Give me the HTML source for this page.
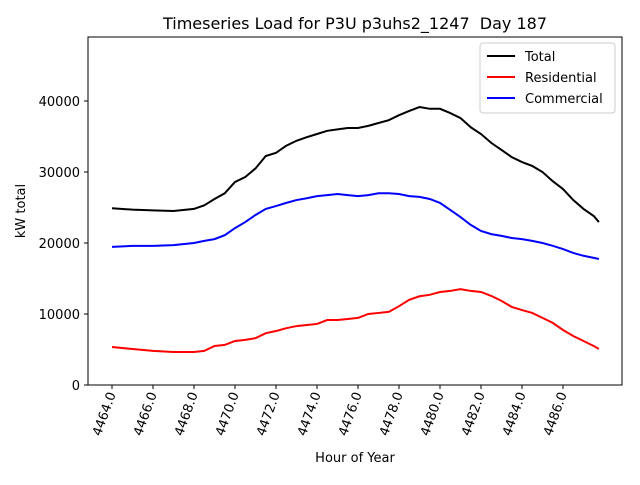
<!DOCTYPE html>
<html><head><meta charset="utf-8"><style>
body{margin:0;background:#fff;font-family:"Liberation Sans","DejaVu Sans",sans-serif}
svg text{font-family:"DejaVu Sans","Liberation Sans",sans-serif}
</style></head><body>
<svg id="c" width="640" height="480" viewBox="0 0 640 480">
<rect width="640" height="480" fill="#fff"/>
<text x="355" y="29" font-size="16" text-anchor="middle">Timeseries Load for P3U p3uhs2_1247&#160; Day 187</text>
<text x="355" y="462" font-size="13" text-anchor="middle">Hour of Year</text>
<text x="25" y="211" font-size="13" text-anchor="middle" transform="rotate(-90 25 211)">kW total</text>
<g id="plot"></g>
<rect x="88" y="37" width="534" height="348" fill="none" stroke="#000" stroke-width="1"/>
<g>
<rect x="480" y="43" width="135" height="70" fill="#fff" stroke="#ccc" rx="3"/>
<g><line x1="487" y1="56" x2="515" y2="56" stroke="#000" stroke-width="2"/><text x="525" y="61" font-size="13">Total</text></g>
<g><line x1="487" y1="77" x2="515" y2="77" stroke="red" stroke-width="2"/><text x="525" y="82" font-size="13">Residential</text></g>
<g><line x1="487" y1="98" x2="515" y2="98" stroke="blue" stroke-width="2"/><text x="525" y="103" font-size="13">Commercial</text></g>
</g>
</svg>
<script>
const hours=[4464,4465,4466,4467,4468,4468.5,4469,4469.5,4470,4470.5,4471,4471.5,4472,4472.5,4473,4473.5,4474,4474.5,4475,4475.5,4476,4476.5,4477,4477.5,4478,4478.5,4479,4479.5,4480,4480.5,4481,4481.5,4482,4482.5,4483,4483.5,4484,4484.5,4485,4485.5,4486,4486.5,4487,4487.5,4487.75];
const total=[24900,24700,24600,24500,24800,25300,26200,27000,28600,29300,30500,32250,32700,33700,34400,34900,35350,35800,36000,36200,36200,36500,36900,37300,38000,38600,39150,38900,38900,38300,37600,36300,35350,34100,33100,32100,31400,30850,30000,28700,27600,26050,24800,23800,22950];
const residential=[5350,5070,4800,4650,4650,4800,5500,5650,6200,6350,6600,7300,7600,8000,8300,8450,8600,9150,9150,9300,9450,10000,10150,10300,11100,12000,12500,12700,13100,13250,13500,13250,13100,12550,11850,11000,10550,10150,9450,8750,7750,6900,6200,5500,5070];
const commercial=[19450,19600,19600,19700,20000,20300,20550,21100,22100,22950,23950,24800,25200,25650,26050,26300,26600,26750,26900,26750,26600,26750,27000,27000,26900,26600,26500,26200,25650,24650,23650,22550,21700,21250,21000,20700,20550,20300,20000,19600,19150,18600,18200,17900,17750];
const xTicks=[4464,4466,4468,4470,4472,4474,4476,4478,4480,4482,4484,4486];
const yTicks=[0,10000,20000,30000,40000];
const X=h=>112+(h-4464)*20.5;
const Y=v=>385-v*0.0071;
const NS="http://www.w3.org/2000/svg";
const g=document.getElementById('plot');
function mk(t,a){const e=document.createElementNS(NS,t);for(const k in a)e.setAttribute(k,a[k]);g.appendChild(e);return e;}
xTicks.forEach(t=>{
 const l=mk('line',{x1:X(t),x2:X(t),y1:385,y2:389,stroke:'#000'});
 
 
 const tx=mk('text',{x:X(t)+4,y:394,'font-size':13,'text-anchor':'end',transform:`rotate(-70 ${X(t)+4} 394)`});
 tx.textContent=t.toFixed(1);
 
 
});
yTicks.forEach(t=>{
 const l=mk('line',{x1:84,x2:88,y1:Y(t),y2:Y(t),stroke:'#000'});
 
 
 const tx=mk('text',{x:80,y:Y(t)+5,'font-size':13,'text-anchor':'end'});
 tx.textContent=t;
 
 
});
[[total,'#000','total-line'],[residential,'red','residential-line'],[commercial,'blue','commercial-line']].forEach(([s,c,n])=>{
 const p=mk('polyline',{points:s.map((v,i)=>X(hours[i])+','+Y(v)).join(' '),fill:'none',stroke:c,'stroke-width':2});
 
 
});
</script>
</body></html>
